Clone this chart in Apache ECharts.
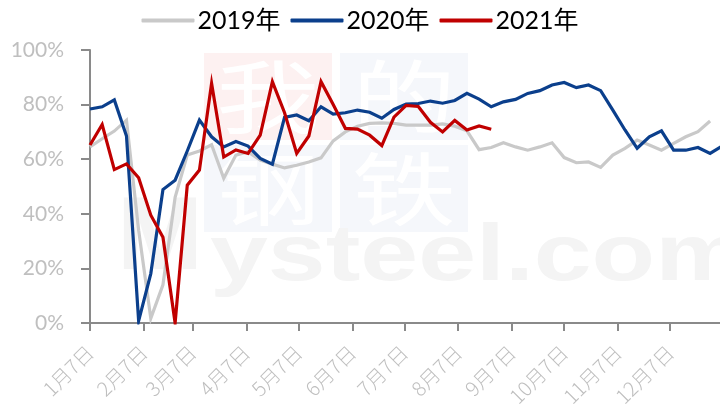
<!DOCTYPE html>
<html>
<head>
<meta charset="utf-8">
<script src="https://cdn.jsdelivr.net/npm/echarts@6/dist/echarts.min.js"></script>
<style>
html,body{margin:0;padding:0;background:#ffffff;}
#c{width:720px;height:412px;}
</style>
</head>
<body>
<div id="c"></div>
<script>
// ---- data ----
const seriesNames = ['2019年', '2020年', '2021年'];
const tickLabels = ['1月7日','2月7日','3月7日','4月7日','5月7日','6月7日','7月7日','8月7日','9月7日','10月7日','11月7日','12月7日'];
// weekly values (%), first week = 1月7日
const v2019 = [64.5, 67.5, 70.3, 74.3, 34, 1.7, 14, 46, 61.5, 63, 65.3, 53, 61.5, 62.7, 59.7, 58.2, 56.8, 57.8, 59, 60.5,
  66.7, 70, 72.1, 73.1, 73.3, 73.1, 72.5, 72.5, 72.5, 72.9, 72.1, 70.4, 63.5, 64.3, 66, 64.5, 63.3, 64.5, 66, 60.6,
  58.7, 59, 57, 61.5, 64, 67, 65.2, 63.3, 65.8, 68.2, 70.1, 74];
const v2020 = [78.4, 79.2, 81.7, 68.5, 0.8, 18.1, 48.9, 52.3, 63, 74.3, 68.2, 64.5, 66.5, 64.8, 60.3, 58.2, 75.3, 76.2, 74.1, 79.2,
  76.5, 77, 78, 77.2, 75, 78.2, 80.2, 80.4, 81.3, 80.5, 81.5, 84.1, 82, 79.2, 81, 81.9, 84.1, 85.1, 87.2, 88.1,
  86.2, 87.2, 85.1, 78, 70.7, 64, 68.2, 70.4, 63.3, 63.3, 64.3, 62.1, 64.8];
const v2021 = [65.2, 72.7, 56.2, 58.3, 53.2, 39.5, 31.4, 0, 50.5, 56, 87.8, 60.8, 63.4, 62.1, 68.8, 88.4, 77, 62.1, 68.5, 88.4,
  80, 71.3, 71, 68.8, 65, 75.4, 79.7, 79.3, 73.5, 70, 74.2, 70.7, 72.2, 71];

// ---- axis helpers (days since 1月7日) ----
const DAY = 86400000;
const tickValues = tickLabels.map((_, m) => Math.round((Date.UTC(2021, m, 7) - Date.UTC(2021, 0, 7)) / DAY));
const toPoints = arr => arr.map((v, i) => [i * 7, v]);

const colors = ['#c9c9c9', '#0b3f8c', '#c00000'];
const axisGray = '#8a8a8a';
const labelGray = '#bfbfbf';
const latin = 'Lato, "Noto Sans CJK SC", sans-serif';

const chart = echarts.init(document.getElementById('c'));
chart.setOption({
  animation: false,
  backgroundColor: '#ffffff',
  color: colors,
  textStyle: { fontFamily: latin },
  legend: {
    top: 3,
    left: 'center',
    icon: 'roundRect',
    itemWidth: 53,
    itemHeight: 4,
    itemGap: 10,
    data: seriesNames,
    textStyle: { fontSize: 25, color: '#000000', fontFamily: latin, padding: [0, 0, 0, -2] }
  },
  grid: { left: 90, right: -4, top: 50, bottom: 89, outerBoundsMode: 'none', containLabel: false },
  graphic: {
    elements: [
      { type: 'rect', silent: true, z: 0, shape: { x: 204, y: 53, width: 128, height: 87 }, style: { fill: '#fdf1f1' } },
      { type: 'rect', silent: true, z: 0, shape: { x: 340, y: 53, width: 128, height: 87 }, style: { fill: '#f5f7fb' } },
      { type: 'rect', silent: true, z: 0, shape: { x: 204, y: 145, width: 128, height: 87 }, style: { fill: '#f5f7fb' } },
      { type: 'rect', silent: true, z: 0, shape: { x: 340, y: 145, width: 128, height: 87 }, style: { fill: '#f5f7fb' } },
      { type: 'text', silent: true, z: 0, x: 268, y: 97, scaleX: 1.3, style: { text: '我', fontSize: 80, fontFamily: '"Noto Sans CJK SC"', fill: '#ffffff', textAlign: 'center', textVerticalAlign: 'middle', align: 'center', verticalAlign: 'middle' } },
      { type: 'text', silent: true, z: 0, x: 404, y: 97, scaleX: 1.3, style: { text: '的', fontSize: 80, fontFamily: '"Noto Sans CJK SC"', fill: '#ffffff', textAlign: 'center', textVerticalAlign: 'middle', align: 'center', verticalAlign: 'middle' } },
      { type: 'text', silent: true, z: 0, x: 268, y: 189, scaleX: 1.3, style: { text: '钢', fontSize: 80, fontFamily: '"Noto Sans CJK SC"', fill: '#ffffff', textAlign: 'center', textVerticalAlign: 'middle', align: 'center', verticalAlign: 'middle' } },
      { type: 'text', silent: true, z: 0, x: 404, y: 189, scaleX: 1.3, style: { text: '铁', fontSize: 80, fontFamily: '"Noto Sans CJK SC"', fill: '#ffffff', textAlign: 'center', textVerticalAlign: 'middle', align: 'center', verticalAlign: 'middle' } },
      { type: 'text', silent: true, z: 0, x: 117, y: 241, style: { text: 'M', fontSize: 103, fontWeight: 'bold', fontFamily: '"Liberation Sans"', fill: '#f4f4f4', textAlign: 'left', textVerticalAlign: 'middle', align: 'left', verticalAlign: 'middle' } },
      { type: 'text', silent: true, z: 0, x: 210, y: 258, scaleX: 1.3, style: { text: 'ysteel.com', fontSize: 80, fontWeight: 'bold', fontFamily: '"Liberation Sans"', fill: '#f4f4f4', textAlign: 'left', textVerticalAlign: 'middle', align: 'left', verticalAlign: 'middle' } }
    ]
  },
  xAxis: {
    type: 'value',
    min: 0,
    max: 365,
    splitLine: { show: false },
    axisLine: { show: true, onZero: false, lineStyle: { color: axisGray, width: 2 } },
    axisTick: { show: true, inside: false, length: 8, customValues: tickValues, lineStyle: { color: axisGray, width: 2 } },
    axisLabel: {
      customValues: tickValues,
      rotate: 45,
      margin: 26,
      fontSize: 20,
      fontWeight: 300,
      color: labelGray,
      fontFamily: '"Noto Sans CJK SC", sans-serif',
      formatter: v => tickLabels[tickValues.indexOf(v)] || ''
    }
  },
  yAxis: {
    type: 'value',
    min: 0,
    max: 100,
    interval: 20,
    splitLine: { show: false },
    axisLine: { show: true, lineStyle: { color: axisGray, width: 2 } },
    axisTick: { show: true, inside: false, length: 9, lineStyle: { color: axisGray, width: 2 } },
    axisLabel: { formatter: '{value}%', fontSize: 21, color: labelGray, margin: 26, fontFamily: latin }
  },
  series: [
    { name: seriesNames[0], type: 'line', data: toPoints(v2019), symbol: 'none', z: 2, lineStyle: { width: 3.2, color: colors[0], join: 'miter', miterLimit: 10 } },
    { name: seriesNames[1], type: 'line', data: toPoints(v2020), symbol: 'none', z: 3, lineStyle: { width: 3.2, color: colors[1], join: 'miter', miterLimit: 10 } },
    { name: seriesNames[2], type: 'line', data: toPoints(v2021), symbol: 'none', z: 4, lineStyle: { width: 3.2, color: colors[2], join: 'miter', miterLimit: 10 } }
  ]
});
</script>
</body>
</html>
